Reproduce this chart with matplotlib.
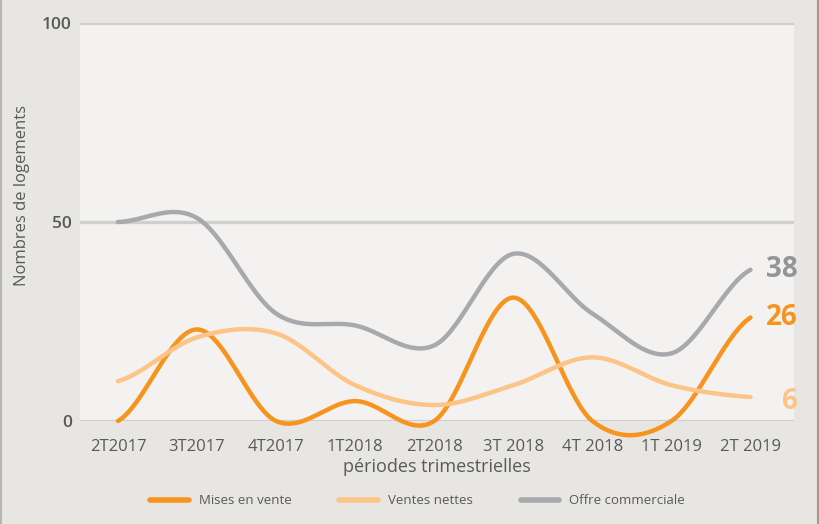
import numpy as np
import matplotlib.pyplot as plt

periodes = ["2T2017", "3T2017", "4T2017", "1T2018", "2T2018",
            "3T 2018", "4T 2018", "1T 2019", "2T 2019"]
mises_en_vente = [0, 23, 0, 5, 0, 31, 0, 0, 26]
ventes_nettes = [10, 21, 22, 9, 4, 9, 16, 9, 6]
offre_commerciale = [50, 51, 27, 24, 19, 42, 27, 17, 38]

c_mises = "#f7941d"
c_ventes = "#fdc487"
c_offre = "#a7a9ac"
c_text = "#58595b"


def lissage(y, n=40):
    # courbe lissée type Excel (Catmull-Rom) passant par les points
    y = np.asarray(y, dtype=float)
    yp = np.r_[y[0], y, y[-1]]
    xs, ys = [], []
    for i in range(len(y) - 1):
        p0, p1, p2, p3 = yp[i], yp[i + 1], yp[i + 2], yp[i + 3]
        m1 = (p2 - p0) / 2
        m2 = (p3 - p1) / 2
        t = np.linspace(0, 1, n, endpoint=(i == len(y) - 2))
        h00 = 2 * t**3 - 3 * t**2 + 1
        h10 = t**3 - 2 * t**2 + t
        h01 = -2 * t**3 + 3 * t**2
        h11 = t**3 - t**2
        xs.append(i + t)
        ys.append(h00 * p1 + h10 * m1 + h01 * p2 + h11 * m2)
    return np.concatenate(xs), np.concatenate(ys)


plt.rcParams['font.family'] = ['Open Sans', 'DejaVu Sans']

fig = plt.figure(figsize=(8.19, 5.24), dpi=100, facecolor="#e7e6e3")
ax = fig.add_axes([80 / 819, 103 / 524, 714 / 819, 398 / 524])
ax.set_facecolor("#f3f2f0")

x = np.arange(len(periodes))
for serie, col, nom in [(mises_en_vente, c_mises, "Mises en vente"),
                        (ventes_nettes, c_ventes, "Ventes nettes"),
                        (offre_commerciale, c_offre, "Offre commerciale")]:
    xs, ys = lissage(serie)
    ax.plot(xs, ys, color=col, lw=3.2, solid_capstyle="round",
            clip_on=False, label=nom, zorder=3)

ax.set_xlim(-0.48, len(periodes) - 0.45)
ax.set_ylim(0, 100)
ax.set_yticks([0, 50, 100])
ax.set_xticks(x)
ax.set_xticklabels(periodes, fontsize=12, color=c_text)
for lab in ax.get_yticklabels():
    lab.set_fontsize(12.5)
    lab.set_fontweight("semibold")
    lab.set_color(c_text)
ax.tick_params(length=0, pad=6)
ax.tick_params(axis="x", pad=13)
ax.grid(axis="y", color="#cfcfce", lw=2.4, zorder=1)
for s in ax.spines.values():
    s.set_visible(False)

ax.set_xlabel("périodes trimestrielles", fontsize=13, color=c_text, labelpad=2)
fig.text(22 / 819, 1 - 195 / 524, "Nombres de logements", rotation=90,
         fontsize=12, color=c_text, ha="center", va="center")

# valeurs de fin de série
xf = len(periodes) - 1
ax.annotate(str(offre_commerciale[-1]), (xf, offre_commerciale[-1]),
            xytext=(11, 0), textcoords="offset points", fontsize=20,
            fontweight="bold", color="#939598", va="center", annotation_clip=False)
ax.annotate(str(mises_en_vente[-1]), (xf, mises_en_vente[-1]),
            xytext=(11, 0), textcoords="offset points", fontsize=20,
            fontweight="bold", color=c_mises, va="center", annotation_clip=False)
ax.annotate(str(ventes_nettes[-1]), (xf, ventes_nettes[-1]),
            xytext=(23, -3), textcoords="offset points", fontsize=20,
            fontweight="bold", color=c_ventes, va="center", annotation_clip=False)

leg = fig.legend(loc="center", bbox_to_anchor=(0.51, 1 - 501 / 524), ncol=3,
                 frameon=False, fontsize=9.5, handlelength=2.9,
                 columnspacing=3.6, handletextpad=0.8)
for t in leg.get_texts():
    t.set_color(c_text)
for h in leg.get_lines():
    h.set_linewidth(4)

# bordures gauche et droite
fig.add_artist(plt.Line2D([0.001, 0.001], [0, 1], color="#b5b5b5", lw=1.5))
fig.add_artist(plt.Line2D([0.999, 0.999], [0, 1], color="#9a9a9a", lw=1.5))

fig.savefig("out.png", dpi=100, facecolor=fig.get_facecolor())
